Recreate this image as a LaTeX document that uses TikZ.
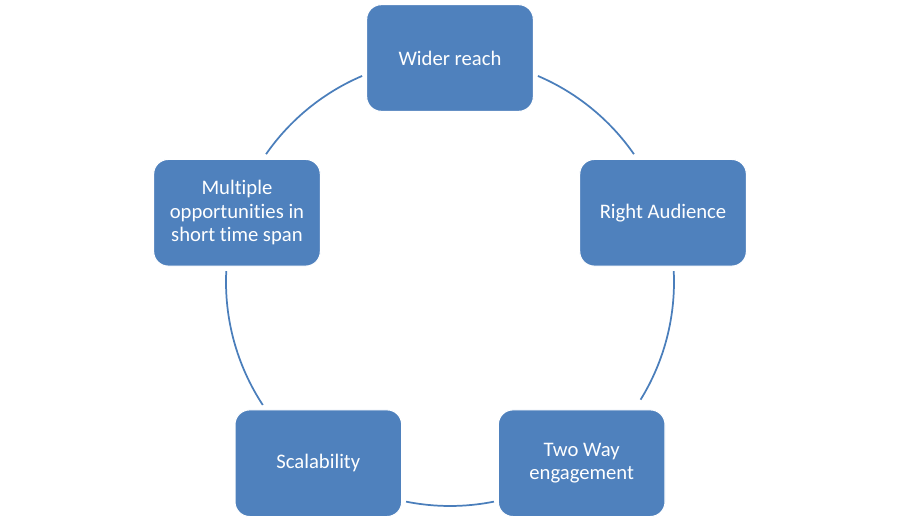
\documentclass[tikz,border=0pt]{standalone}
\usepackage{fontspec}
\setmainfont{Carlito}[Ligatures=NoCommon]
\definecolor{cBox}{HTML}{4F81BD}
\definecolor{cArc}{HTML}{4A7EBB}
\tikzset{
  font=\fontsize{15.5}{17.6}\selectfont,
  cbox/.style={rounded corners=11pt, fill=cBox, draw=white, line width=0.8pt, text=white, align=center, minimum width=125pt, minimum height=80pt, inner sep=3pt},
  carc/.style={draw=cArc, line width=1.3pt},
}
\begin{document}
\begin{tikzpicture}[x=0.75pt,y=0.75pt]
\useasboundingbox (0,0) rectangle (900,527);
\coordinate (c) at (450,245);
% boxes on the cycle
\node[cbox] (reach) at ([shift={(90:224)}]c) {Wider reach};
\node[cbox] (aud) at ([shift={(18:224)}]c) {Right Audience};
\node[cbox] (eng) at ([shift={(-54:224)}]c) {Two Way\\engagement};
\node[cbox] (scal) at ([shift={(-126:224)}]c) {Scalability};
\node[cbox] (opp) at ([shift={(162:224)}]c) {Multiple\\opportunities in\\short time span};
% arcs between boxes
\foreach \s/\e in {66.9/34.8, 2.8/-31.7, -78.7/-101.3, -146.7/-182.8, 145.2/113.1}
  \draw[carc] ([shift={(\s:224)}]c) arc[start angle=\s, end angle=\e, radius=224];
\end{tikzpicture}
\end{document}
